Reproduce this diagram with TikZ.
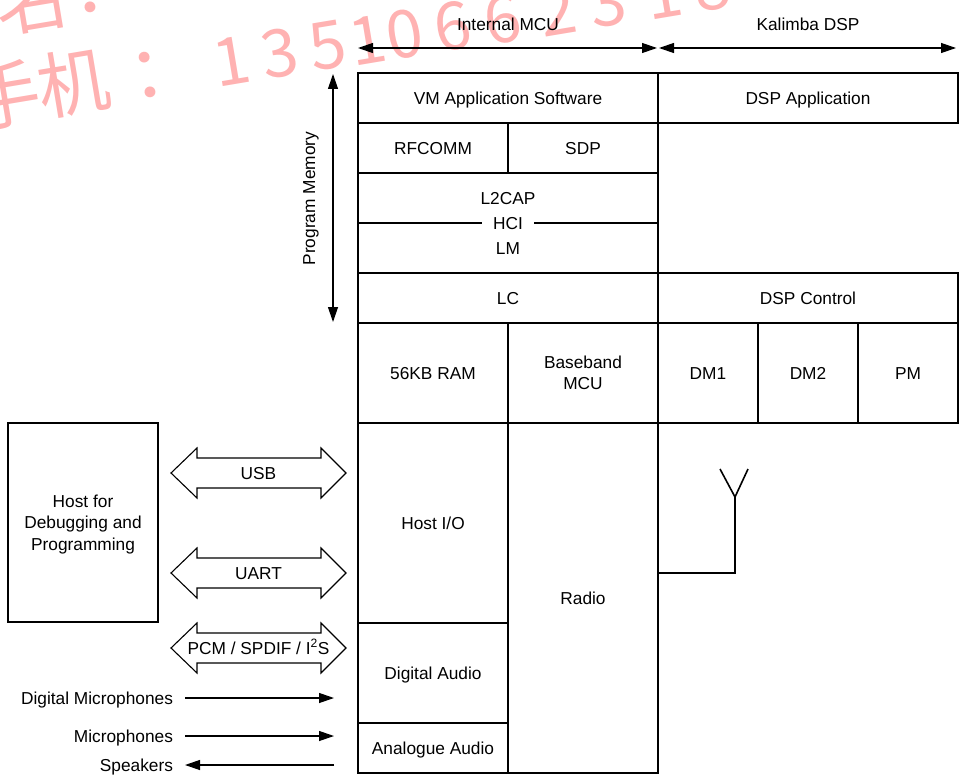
\documentclass[tikz,border=0pt]{standalone}
\usepackage{fontspec}
\setmainfont{Liberation Sans}
\newfontfamily\cjk{Noto Sans CJK TC}
\usetikzlibrary{arrows.meta,calc}
\definecolor{wmpink}{RGB}{255,178,178}
\tikzset{
  txt/.style={font=\fontsize{17.3}{21.5}\selectfont, inner sep=0pt, outer sep=0pt, text height=12.4pt, text depth=0pt},
  txtm/.style={font=\fontsize{17.3}{21.5}\selectfont, inner sep=0pt, outer sep=0pt, align=center},
  box/.style={txt, draw, line width=1.2pt},
  boxm/.style={txtm, draw, line width=1.2pt},
  wmark/.style={font=\cjk\fontsize{66}{66}\selectfont, text=wmpink, inner sep=0pt, rotate=9.5},
  wmarkc/.style={font=\cjk\fontsize{72}{72}\selectfont, text=wmpink, inner sep=0pt, rotate=9.5},
  arr/.style={line width=1.2pt, -{Triangle[length=15pt,width=10pt]}},
  dblarr/.style={line width=1.2pt, {Triangle[length=15pt,width=10pt]}-{Triangle[length=15pt,width=10pt]}},
  fat/.style={line width=1.1pt, draw, fill=white, line join=miter},
  antenna/.style={line width=1.6pt}
}
\newcommand\fatarrow[1]{%
  \draw[fat] (171,{#1}) -- (197,{#1-25}) -- (197,{#1-15}) -- (321,{#1-15}) -- (321,{#1-25})
    -- (346,{#1}) -- (321,{#1+25}) -- (321,{#1+15}) -- (197,{#1+15}) -- (197,{#1+25}) -- cycle;}
\begin{document}
\begin{tikzpicture}[x=1pt,y=-1pt]
\useasboundingbox (0,0) rectangle (960,781);
% watermark
\begin{scope}
\clip (0,0) rectangle (960,781);
\foreach \c/\x [count=\i] in {1/232,3/280,5/328,1/368,0/405,6/453,6/503,2/558,3/608,1/664,8/712} {
  \node[wmark] (wmd\i) at (\x,{61-0.155*(\x-232)}) {\c};
}
\node[wmarkc] (wmshou) at (4,96) {手};
\node[wmarkc] (wmji) at (73,83) {机};
\node[wmarkc] (wmcolon) at (148,77) {：};
\node[wmarkc] (wmming) at (30,0) {名};
\node[wmarkc] (wmcolonb) at (88,-8) {：};
\end{scope}

% top range arrows
\coordinate (mcuL) at (358,48);
\coordinate (mcuR) at (657,48);
\coordinate (dspL) at (659,48);
\coordinate (dspR) at (956,48);
\draw[dblarr] (mcuL) -- (mcuR);
\draw[dblarr] (dspL) -- (dspR);
\node[txt] (lmcu) at (508,24) {Internal MCU};
\node[txt] (ldsp) at (808,24) {Kalimba DSP};

% program memory
\coordinate (pmT) at (333,74);
\coordinate (pmB) at (333,322);
\draw[dblarr] (pmT) -- (pmB);
\node[txt, rotate=90] (lpm) at (309,198.5) {Program Memory};

% MCU column
\node[box, minimum width=300pt, minimum height=50pt] (vm) at (508,98) {VM Application Software};
\node[box, minimum width=150pt, minimum height=50pt] (rfcomm) at (433,148) {RFCOMM};
\node[box, minimum width=150pt, minimum height=50pt] (sdp) at (583,148) {SDP};
\node[box, minimum width=300pt, minimum height=100pt] (stack) at (508,223) {};
\node[txt] (l2cap) at (508,198) {L2CAP};
\node[txt] (lm) at (508,248) {LM};
\draw[line width=1.2pt] (stack.west) -- (stack.east);
\node[txt, fill=white, inner xsep=11.5pt, inner ysep=2pt] (hci) at (508,223) {HCI};
\node[box, minimum width=300pt, minimum height=50pt] (lc) at (508,298) {LC};
\node[box, minimum width=150pt, minimum height=100pt] (ram) at (433,373) {56KB RAM};
\node[boxm, minimum width=150pt, minimum height=100pt] (bb) at (583,373) {Baseband\\MCU};
\node[box, minimum width=150pt, minimum height=200pt] (hostio) at (433,523) {Host I/O};
\node[box, minimum width=150pt, minimum height=100pt] (daudio) at (433,673) {Digital Audio};
\node[box, minimum width=150pt, minimum height=50pt] (aaudio) at (433,748) {Analogue Audio};
\node[box, minimum width=150pt, minimum height=350pt] (radio) at (583,598) {Radio};

% DSP column
\node[box, minimum width=300pt, minimum height=50pt] (dspapp) at (808,98) {DSP Application};
\node[box, minimum width=300pt, minimum height=50pt] (dspctl) at (808,298) {DSP Control};
\node[box, minimum width=100pt, minimum height=100pt] (dm1) at (708,373) {DM1};
\node[box, minimum width=100pt, minimum height=100pt] (dm2) at (808,373) {DM2};
\node[box, minimum width=100pt, minimum height=100pt] (pm) at (908,373) {PM};

% antenna
\coordinate (ant) at (735,497);
\coordinate (feed) at (735,573);
\draw[antenna] (feed -| radio.east) -- (feed) -- (ant);
\draw[antenna] ($(ant)+(-15,-28)$) -- (ant) -- ($(ant)+(13,-28)$);

% host
\node[box, minimum width=150pt, minimum height=199pt] (host) at (83,522.5) {};
\node[txtm] (hosttxt) at ($(host.center)+(0,1.8)$) {Host for\\Debugging and\\Programming};

% fat double arrows
\fatarrow{473}
\node[txt] (usb) at (258.5,473) {USB};
\fatarrow{573}
\node[txt] (uart) at (258.5,573) {UART};
\fatarrow{648}
\node[txt] (pcm) at (258.5,648) {PCM / SPDIF / I\textsuperscript{2}S};

% audio lines
\node[txt, anchor=east] (ldm) at (173,698) {Digital Microphones};
\node[txt, anchor=east] (lmic) at (173,736) {Microphones};
\node[txt, anchor=east] (lsp) at (173,765) {Speakers};
\draw[arr] ($(ldm.east)+(12,0)$) -- ($(daudio.west |- ldm.east)+(-24,0)$);
\draw[arr] ($(lmic.east)+(12,0)$) -- ($(aaudio.west |- lmic.east)+(-24,0)$);
\draw[arr] ($(aaudio.west |- lsp.east)+(-24,0)$) -- ($(lsp.east)+(12,0)$);
\end{tikzpicture}
\end{document}
